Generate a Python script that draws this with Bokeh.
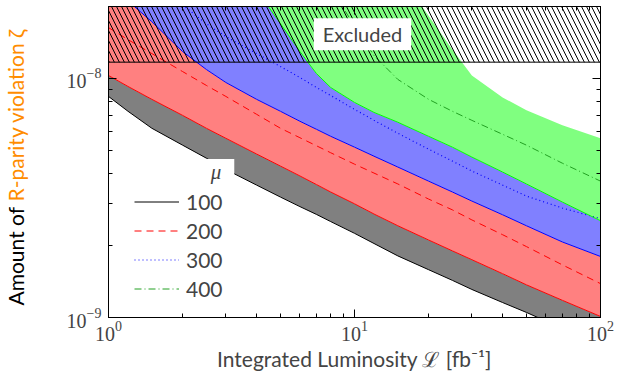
import numpy as np
from bokeh.plotting import figure
from bokeh.layouts import row
from bokeh.models import (Range1d, FixedTicker, LogAxis, LogTickFormatter, Label,
                          Legend, LegendItem)
from bokeh.embed import file_html
from bokeh.resources import INLINE

# ---- data ----
lumi = [1, 1.2, 1.5, 2, 2.5, 3, 4, 5, 6, 7, 8, 10, 12, 15, 20, 25, 30, 40, 50, 70, 100]
# zeta values in units of 1e-9
mu100_low = [8.41, 7.29, 6.19, 5.26, 4.64, 4.16, 3.58, 3.19, 2.91, 2.70, 2.52, 2.25, 2.04,
             1.81, 1.585, 1.43, 1.31, 1.155, 1.05, 0.90, 0.77]
mu200_low = [10.29, 9.26, 8.18, 7.01, 6.19, 5.62, 4.83, 4.30, 3.91, 3.60, 3.35, 2.99, 2.71,
             2.42, 2.11, 1.90, 1.745, 1.525, 1.37, 1.18, 1.01]
mu200_mid = [16.32, 14.54, 12.71, 10.69, 9.35, 8.41, 7.08, 6.19, 5.65, 5.23, 4.89, 4.38, 4.02,
             3.62, 3.13, 2.82, 2.56, 2.22, 1.98, 1.66, 1.386]
mu300_low = [25.1, 21.1, 17.28, 12.96, 10.90, 9.62, 8.18, 7.29, 6.62, 6.13, 5.73, 5.16, 4.73,
             4.26, 3.72, 3.35, 3.07, 2.69, 2.42, 2.07, 1.80]
mu300_mid = [34.5, 29.9, 25.4, 20.3, 16.95, 14.96, 12.71, 11.22, 10.09, 9.17, 8.49, 7.43, 6.68,
             5.90, 5.06, 4.51, 4.10, 3.58, 3.22, 2.87, 2.59]
mu400_low = [145.4, 109, 78, 50.6, 38.0, 31.3, 23.5, 16.95, 12.96, 10.49, 9.17, 7.94, 7.21,
             6.56, 5.73, 5.16, 4.69, 4.06, 3.62, 3.04, 2.54]
mu400_mid = [380, 284, 194, 126, 90, 70.8, 53.1, 41.8, 34.5, 29.0, 23.9, 16.6, 12.47,
             9.91, 8.18, 7.29, 6.68, 5.84, 5.26, 4.42, 3.72]
mu400_high = [1600, 1200, 820, 506, 345, 259, 160, 114, 85.8, 70.8, 61.3, 48.2, 38.0,
              27.9, 18.3, 13.21, 10.29, 8.33, 7.36, 6.37, 5.62]
zeta_unit = 1e-9

x_min, x_max = 1, 100
y_min, y_max = 1e-9, 2.0e-8
excluded_low = 1.17e-8

x_major = [1, 10, 100]
x_minor = [2, 3, 4, 5, 6, 7, 8, 9, 20, 30, 40, 50, 60, 70, 80, 90]
y_major = [1e-9, 1e-8]
y_minor = [2e-9, 3e-9, 4e-9, 5e-9, 6e-9, 7e-9, 8e-9, 9e-9, 2e-8]

mu_labels = ["100", "200", "300", "400"]

L = np.array(lumi, dtype=float)
z = lambda a: np.array(a, dtype=float) * zeta_unit

H = 373
STRIP = 30

# ---- narrow strip holding the two-coloured y title (its frame aligns with the plot's) ----
s = figure(width=STRIP, height=H, x_range=Range1d(0, 1), y_range=Range1d(0, 1),
           output_backend="svg", toolbar_location=None, min_border=0,
           x_axis_location=None, y_axis_location=None)
s.grid.visible = False
s.outline_line_color = None
s.add_layout(Label(x=15, y=12, x_units="screen", y_units="screen", text="Amount of",
                   angle=np.pi / 2, text_font="Lato", text_font_size="21px",
                   text_align="left", text_baseline="middle", text_color="black"))
s.add_layout(Label(x=15, y=116, x_units="screen", y_units="screen",
                   text="R-parity violation ζ", angle=np.pi / 2, text_font="Lato",
                   text_font_size="21px", text_align="left", text_baseline="middle",
                   text_color="#FF8C00"))

# ---- main plot ----
p = figure(width=614 - STRIP, height=H, x_axis_type="log", y_axis_type="log",
           x_range=Range1d(x_min, x_max), y_range=Range1d(y_min, y_max),
           output_backend="svg", toolbar_location=None,
           min_border_left=108 - STRIP, min_border_right=14, min_border_top=6,
           min_border_bottom=54)
p.xgrid.visible = False
p.ygrid.visible = False
p.outline_line_color = "black"
p.outline_line_width = 1

# bands
p.varea(x=L, y1=z(mu100_low), y2=z(mu200_low), fill_color="#808080")
p.varea(x=L, y1=z(mu200_low), y2=z(mu300_low), fill_color="#FF8080")
p.varea(x=L, y1=z(mu300_low), y2=z(mu400_low), fill_color="#8080FF")
p.varea(x=L, y1=z(mu400_low), y2=z(mu400_high), fill_color="#80FF80")

# lines
r100 = p.line(L, z(mu100_low), line_color="black", line_width=1)
p.line(L, z(mu200_low), line_color="#FF0000", line_width=1)
r200 = p.line(L, z(mu200_mid), line_color="#FF0000", line_width=1, line_dash="7 5")
p.line(L, z(mu300_low), line_color="#0000FF", line_width=1)
r300 = p.line(L, z(mu300_mid), line_color="#0000FF", line_width=1.2, line_dash="1 3")
p.line(L, z(mu400_low), line_color="#00FF00", line_width=1)
r400 = p.line(L, z(mu400_mid), line_color="#22A022", line_width=1, line_dash="7 3 1 3")

# excluded region
p.quad(left=[x_min], right=[x_max], bottom=[excluded_low], top=[y_max],
       fill_color=None, hatch_pattern="\\", hatch_color="black", hatch_scale=10,
       hatch_weight=1, line_color="black", line_width=1)

p.add_layout(Label(x=10, y=float(np.sqrt(excluded_low * y_max)), x_offset=8,
                   text="Excluded", text_font="Lato", text_font_size="20px",
                   text_align="center", text_baseline="middle",
                   background_fill_color="white",
                   padding=dict(left=9, right=9, top=4, bottom=4)))

# axes
xt = FixedTicker(ticks=x_major, minor_ticks=x_minor)
yt = FixedTicker(ticks=y_major, minor_ticks=y_minor)
for ax, t in ((p.xaxis[0], xt), (p.yaxis[0], yt)):
    ax.ticker = t
    ax.formatter = LogTickFormatter()
    ax.major_tick_in = 8
    ax.major_tick_out = 0
    ax.minor_tick_in = 4
    ax.minor_tick_out = 0
    ax.major_label_text_font = "Liberation Serif"
    ax.major_label_text_font_size = "20px"
    ax.axis_line_color = "black"
p.xaxis.major_label_standoff = 3
p.yaxis.major_label_standoff = 7

p.xaxis.axis_label = "Integrated Luminosity ℒ [fb⁻¹]"
p.xaxis.axis_label_text_font = "Lato"
p.xaxis.axis_label_text_font_style = "normal"
p.xaxis.axis_label_text_font_size = "21px"
p.xaxis.axis_label_standoff = 2

for loc, t in (("above", xt), ("right", yt)):
    ax = LogAxis(ticker=t, major_label_text_font_size="1px", major_label_text_alpha=0,
                 major_label_standoff=0,
                 major_tick_in=8, major_tick_out=0, minor_tick_in=4, minor_tick_out=0)
    p.add_layout(ax, loc)

# legend title box (drawn first, the legend box joins it from below)
p.add_layout(Label(x=104, y=139, x_units="screen", y_units="screen", text="μ",
                   text_font="Liberation Serif", text_font_style="italic",
                   text_font_size="21px", text_align="center", text_baseline="middle",
                   background_fill_color="white",
                   padding=dict(left=20, right=13, top=1, bottom=14)))

# legend
legend = Legend(items=[LegendItem(label=mu_labels[0], renderers=[r100]),
                       LegendItem(label=mu_labels[1], renderers=[r200]),
                       LegendItem(label=mu_labels[2], renderers=[r300]),
                       LegendItem(label=mu_labels[3], renderers=[r400])],
                location=(26, 16), label_text_font="Lato", label_text_font_size="21px",
                glyph_width=45, glyph_height=21, label_height=21, label_standoff=7,
                spacing=4, padding=2, margin=0, border_line_color=None,
                background_fill_color="white", background_fill_alpha=1)
p.add_layout(legend)

open("out.html", "w").write(file_html(row(s, p), INLINE))
